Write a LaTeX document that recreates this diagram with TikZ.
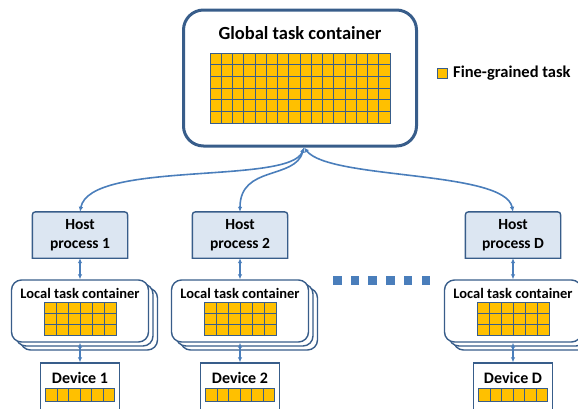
\documentclass[tikz,border=0pt]{standalone}
\usepackage{fontspec}
\setmainfont{Carlito}
\usetikzlibrary{arrows.meta}
\usetikzlibrary{calc}

\definecolor{boxblue}{RGB}{56,93,138}
\definecolor{linkblue}{RGB}{74,126,187}
\definecolor{taskgold}{RGB}{255,192,0}
\definecolor{hostfill}{RGB}{220,230,242}

\begin{document}
\begin{tikzpicture}[x=1pt, y=-1pt, >={Latex[length=5pt,width=4.5pt]}, font=\bfseries,
    cell/.style={fill=taskgold, draw=boxblue, line width=1pt},
    link/.style={<->, draw=linkblue, line width=1.6pt},
    hostline/.style={draw=boxblue, fill=hostfill, line width=1.4pt},
    localbox/.style={draw=boxblue, fill=white, line width=1.4pt, rounded corners=10pt,
        minimum width=137pt, minimum height=62pt, inner sep=0pt},
    devbox/.style={draw=boxblue, fill=white, line width=1.4pt,
        minimum width=79pt, minimum height=50pt, inner sep=0pt}]
    \clip (0,0) rectangle (578,408);
    \useasboundingbox (0,0) rectangle (578,408);

    % Global container
    \node[draw=boxblue, line width=3pt, rounded corners=20pt, minimum width=233pt,
        minimum height=136pt] (g) at (300,78) {};
    \node[font=\bfseries\fontsize{18.5}{22}\selectfont] (gtitle) at (300,33) {Global task container};
    \foreach \c in {0,...,15}
        \foreach \r in {0,...,5}
            \draw[cell] (210+\c*11.25,53+\r*11.7) rectangle ++(11.25,11.7);

    % Legend
    \draw[cell] (437,68) rectangle (447,78);
    \node[anchor=west, font=\bfseries\fontsize{16.5}{19}\selectfont, inner sep=0pt] (legend) at (453,73) {Fine-grained task};

    % Columns: host, local container, device
    \foreach \i/\x/\lbl in {1/80/1, 2/240/2, 3/513/D} {
        % Host process
        \node[minimum width=95pt, minimum height=46pt, inner sep=0pt] (h\i) at (\x,235) {};
        \draw[hostline] (h\i.south west) -- ([yshift=-7pt]h\i.north west)
            .. controls (h\i.north west) .. ([xshift=7pt]h\i.north west)
            -- ([xshift=-7pt]h\i.north east)
            .. controls (h\i.north east) .. ([yshift=-7pt]h\i.north east)
            -- (h\i.south east) -- cycle;
        \node[align=center, font=\bfseries\fontsize{15.5}{19}\selectfont] (ht\i) at (h\i) {Host\\process \lbl};

        % Stacked local containers
        \node[localbox] (l\i c) at (\x+9,319) {};
        \node[localbox] (l\i b) at (\x+4.5,315) {};
        \node[localbox] (l\i) at (\x,311) {};
        \node[font=\bfseries\fontsize{14.5}{17}\selectfont] (lt\i) at (\x,293) {Local task container};
        \foreach \c in {0,...,5}
            \foreach \r in {0,...,2}
                \draw[cell] (\x-36+\c*12,302+\r*11) rectangle ++(12,11);

        % Device
        \node[devbox] (d\i) at (\x,388) {};
        \node[font=\bfseries\fontsize{16}{19}\selectfont] (dt\i) at (\x,378) {Device \lbl};
        \foreach \c in {0,...,5}
            \draw[cell] (\x-34.5+\c*11.5,388) rectangle ++(11.5,13);

        % Vertical links
        \draw[link] (h\i.south) -- (l\i.north);
        \draw[link] (l\i.south) -- (d\i.north);
    }

    % Links from global container to hosts
    \draw[link] ([xshift=4pt]g.south) .. controls (290,185) and (90,160) .. (h1.north);
    \draw[link] ([xshift=4pt]g.south) .. controls (295,180) and (240,165) .. (h2.north);
    \draw[link] ([xshift=4pt]g.south) .. controls (330,180) and (505,170) .. (h3.north);

    % Dots between columns
    \foreach \k in {0,...,5}
        \fill[linkblue] (333+\k*17.7,276) rectangle ++(8.5,8.5);
\end{tikzpicture}
\end{document}
